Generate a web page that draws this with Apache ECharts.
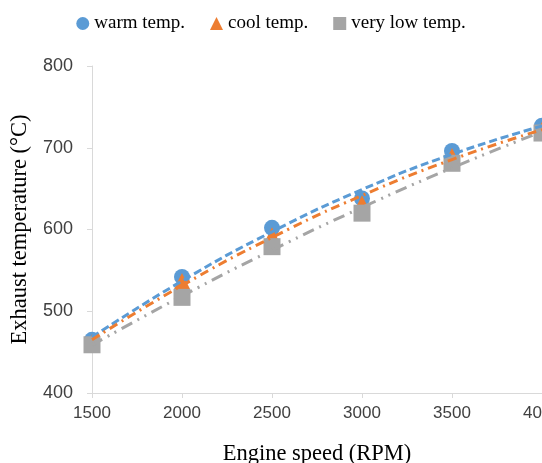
<!DOCTYPE html>
<html><head><meta charset="utf-8">
<script src="https://cdn.jsdelivr.net/npm/echarts@6/dist/echarts.min.js"></script>
<style>html,body{margin:0;padding:0;background:#fff}#c{width:542px;height:463px}</style>
</head><body><div id="c"></div>
<script>
var rpm = [1500, 2000, 2500, 3000, 3500, 4000];
var warmTemp = [465, 542, 602, 638, 696, 727];
var coolTemp = [462, 537, 593, 632, 690, 722];
var veryLowTemp = [459, 517, 579, 620, 681, 718];
var seriesNames = ['warm temp.', 'cool temp.', 'very low temp.'];
var xTicks = [1500, 2000, 2500, 3000, 3500, 4000];
var yTicks = [400, 500, 600, 700, 800];

// quadratic least-squares trendline (like the spreadsheet trendline), evaluated at data x
function quadFit(xs, ys) {
  var n = xs.length, s = [0,0,0,0,0], t = [0,0,0];
  for (var i = 0; i < n; i++) {
    var x = (xs[i] - 2750) / 1000, y = ys[i];
    s[0] += 1; s[1] += x; s[2] += x*x; s[3] += x*x*x; s[4] += x*x*x*x;
    t[0] += y; t[1] += x*y; t[2] += x*x*y;
  }
  var A = [[s[0],s[1],s[2],t[0]],[s[1],s[2],s[3],t[1]],[s[2],s[3],s[4],t[2]]];
  for (var c = 0; c < 3; c++) {
    for (var r = c+1; r < 3; r++) {
      var f = A[r][c]/A[c][c];
      for (var k = c; k < 4; k++) A[r][k] -= f*A[c][k];
    }
  }
  var b = [0,0,0];
  for (var r2 = 2; r2 >= 0; r2--) {
    var v = A[r2][3];
    for (var k2 = r2+1; k2 < 3; k2++) v -= A[r2][k2]*b[k2];
    b[r2] = v/A[r2][r2];
  }
  return xs.map(function (xx) { var x = (xx - 2750)/1000; return [xx, b[0] + b[1]*x + b[2]*x*x]; });
}
function pts(ys) { return rpm.map(function (x, i) { return [x, ys[i]]; }); }

var colors = ['#5B9BD5', '#ED7D31', '#A5A5A5'];
var serif = '"Liberation Serif", "Times New Roman", serif';
var sans = '"Liberation Sans", Arial, sans-serif';

var chart = echarts.init(document.getElementById('c'));
chart.setOption({
  animation: false,
  legend: {
    top: 9, left: 'center', itemGap: 25, itemWidth: 13, itemHeight: 13,
    textStyle: { fontFamily: serif, fontSize: 19, color: '#000' },
    data: [
      { name: seriesNames[0], icon: 'circle' },
      { name: seriesNames[1], icon: 'triangle' },
      { name: seriesNames[2], icon: 'rect' }
    ]
  },
  grid: { left: 92, right: 0, top: 66, bottom: 70, containLabel: false, outerBoundsMode: 'none' },
  xAxis: {
    type: 'value', min: 1500, max: 4000, interval: 500,
    name: 'Engine speed (RPM)', nameLocation: 'middle', nameGap: 50,
    nameTextStyle: { fontFamily: serif, fontSize: 22.5, color: '#000' },
    axisLine: { lineStyle: { color: '#D9D9D9', width: 1 } },
    axisTick: { show: true, length: 5, lineStyle: { color: '#D9D9D9' } },
    axisLabel: { fontFamily: sans, fontSize: 17, color: '#404040', margin: 12, showMaxLabel: true,
      formatter: function (v) { return String(v); } },
    splitLine: { show: false }
  },
  yAxis: {
    type: 'value', min: 400, max: 800, interval: 100,
    name: 'Exhaust temperature (°C)', nameLocation: 'middle', nameGap: 58,
    nameTextStyle: { fontFamily: serif, fontSize: 22.5, color: '#000' },
    axisLine: { show: true, lineStyle: { color: '#D9D9D9', width: 1 } },
    axisTick: { show: true, length: 5, lineStyle: { color: '#D9D9D9' } },
    axisLabel: { fontFamily: sans, fontSize: 18, color: '#404040', margin: 19,
      formatter: function (v) { return String(v); } },
    splitLine: { show: false }
  },
  series: [
    { name: seriesNames[0], type: 'scatter', symbol: 'circle', symbolSize: 16, z: 2,
      itemStyle: { color: colors[0], opacity: 1 }, data: pts(warmTemp) },
    { name: seriesNames[1], type: 'scatter', symbol: 'triangle', symbolSize: 16, z: 3,
      itemStyle: { color: colors[1], opacity: 1 }, data: pts(coolTemp) },
    { name: seriesNames[2], type: 'scatter', symbol: 'rect', symbolSize: 17, z: 4,
      itemStyle: { color: colors[2], opacity: 1 }, data: pts(veryLowTemp) },
    { name: 'trend warm', type: 'line', smooth: true, showSymbol: false, z: 6, silent: true,
      lineStyle: { color: colors[0], width: 3, type: [8, 4] }, data: quadFit(rpm, warmTemp) },
    { name: 'trend cool', type: 'line', smooth: true, showSymbol: false, z: 6, silent: true,
      lineStyle: { color: colors[1], width: 3, type: [9, 5, 2, 5] }, data: quadFit(rpm, coolTemp) },
    { name: 'trend very low', type: 'line', smooth: true, showSymbol: false, z: 6, silent: true,
      lineStyle: { color: colors[2], width: 3, type: [12, 6, 2, 6, 2, 6] }, data: quadFit(rpm, veryLowTemp) }
  ]
});
</script>
</body></html>
